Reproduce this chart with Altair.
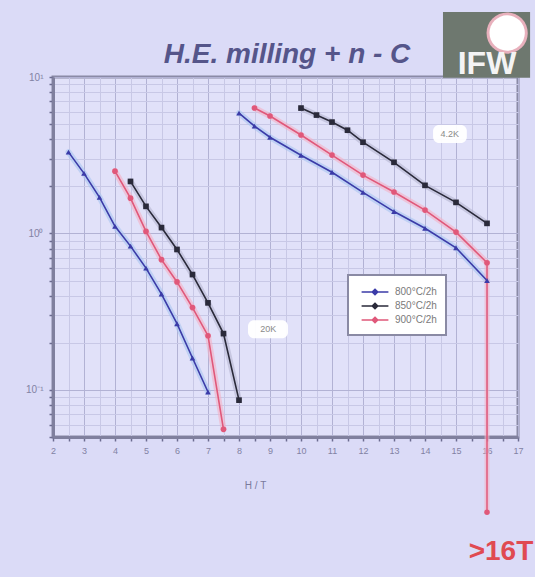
import altair as alt
import pandas as pd

series_names = ["800°C/2h", "850°C/2h", "900°C/2h"]   # blue, black, pink
line_colors = ["#3b3ba8", "#2a2a3a", "#e0587a"]
halo_colors = ["#a8c4f0", "#b6b6d0", "#f4b0c4"]
shapes = ["triangle-up", "square", "circle"]

# 20 K curves  (B in T, Jc arbitrary log units)
b20_blue = [2.5, 3, 3.5, 4, 4.5, 5, 5.5, 6, 6.5, 7]
j20_blue = [3.31, 2.42, 1.70, 1.11, 0.83, 0.60, 0.41, 0.265, 0.16, 0.097]
b20_black = [4.5, 5, 5.5, 6, 6.5, 7, 7.5, 8]
j20_black = [2.15, 1.49, 1.09, 0.79, 0.546, 0.36, 0.229, 0.086]
b20_pink = [4, 4.5, 5, 5.5, 6, 6.5, 7, 7.5]
j20_pink = [2.50, 1.68, 1.03, 0.68, 0.49, 0.336, 0.222, 0.056]

# 4.2 K curves
b42_blue = [8, 8.5, 9, 10, 11, 12, 13, 14, 15, 16]
j42_blue = [5.88, 4.85, 4.12, 3.16, 2.46, 1.83, 1.38, 1.08, 0.81, 0.50]
b42_black = [10, 10.5, 11, 11.5, 12, 13, 14, 15, 16]
j42_black = [6.33, 5.71, 5.15, 4.57, 3.83, 2.85, 2.03, 1.58, 1.16]
b42_pink = [8.5, 9, 10, 11, 12, 13, 14, 15, 16]
j42_pink = [6.34, 5.63, 4.26, 3.17, 2.36, 1.84, 1.41, 1.02, 0.65]

x_ticks = [2 + 0.5 * i for i in range(31)]
y_ticks = [0.05, 0.06, 0.07, 0.08, 0.09,
           0.1, 0.2, 0.3, 0.4, 0.5, 0.6, 0.7, 0.8, 0.9,
           1, 2, 3, 4, 5, 6, 7, 8, 9, 10]

# annotation anchors (data coordinates)
title_text = ["H.E. milling + n - C"]
title_x = [9.55]
title_y = [12.3]

temp_labels = ["4.2K", "20K"]
temp_x = [14.8, 8.94]
temp_y = [4.32, 0.245]
temp_box_x = [14.26, 8.29]
temp_box_x2 = [15.35, 9.58]
temp_box_y = [4.93, 0.279]
temp_box_y2 = [3.78, 0.214]

arrow_b = [16]
arrow_from = [0.65]
arrow_to = [0.0165]
arrow_text = [">16T"]
arrow_text_x = [16.45]
arrow_text_y = [0.0092]

logo_x = [14.58]
logo_x2 = [17.39]
logo_y = [26.0]
logo_y2 = [9.9]
logo_circle_x = [16.65]
logo_circle_y = [19.1]
logo_text = ["IFW"]
logo_text_x = [16.0]
logo_text_y = [10.4]

rows = []
for name, grp, bs, js in [
    (series_names[0], "20K", b20_blue, j20_blue),
    (series_names[1], "20K", b20_black, j20_black),
    (series_names[2], "20K", b20_pink, j20_pink),
    (series_names[0], "4.2K", b42_blue, j42_blue),
    (series_names[1], "4.2K", b42_black, j42_black),
    (series_names[2], "4.2K", b42_pink, j42_pink),
]:
    for b, j in zip(bs, js):
        rows.append({"series": name, "group": grp, "B": b, "J": j})
df = pd.DataFrame(rows)

FONT = "Liberation Sans"
xscale = alt.Scale(domain=[2, 17], nice=False, zero=False)
yscale = alt.Scale(type="log", domain=[0.05, 10], nice=False)

x_axis = alt.Axis(
    values=x_ticks, title="H / T", titleX=202, titleY=43,
    titleFontSize=10, titleColor="#7a7a9c", titleFont=FONT, titleFontWeight="normal",
    labelExpr="datum.value % 1 === 0 ? format(datum.value, 'd') : ''",
    labelFontSize=9, labelColor="#8282a4", labelFont=FONT, labelPadding=5,
    labelOverlap=False, labelFlush=False,
    tickSize=4, tickColor="#6c6c90", tickWidth=1.5,
    domainColor="#80809e", domainWidth=3,
    grid=True,
    gridColor={"condition": {"test": "datum.value % 1 === 0", "value": "#b2b2d4"},
               "value": "#c8c8e6"},
    gridWidth=1)
y_axis = alt.Axis(
    values=y_ticks, title=None,
    labelExpr="abs(datum.value-10)<1e-6 ? '10¹' : abs(datum.value-1)<1e-6 ? '10⁰' : abs(datum.value-0.1)<1e-6 ? '10⁻¹' : ''",
    labelFontSize=10, labelColor="#8282a4", labelFont=FONT, labelPadding=6,
    labelOverlap=False, labelFlush=False,
    tickSize=4, tickColor="#6c6c90", tickWidth=1.5,
    domainColor="#80809e", domainWidth=3,
    grid=True,
    gridColor={"condition": {"test": "abs(log(datum.value)/LN10 - round(log(datum.value)/LN10)) < 0.001",
                             "value": "#b2b2d4"},
               "value": "#c8c8e6"},
    gridWidth=1)


def X(f):
    return alt.X(f"{f}:Q", scale=xscale, axis=x_axis)


def Y(f):
    return alt.Y(f"{f}:Q", scale=yscale, axis=y_axis)


base = alt.Chart(df)

halos = []
pts = []
for name, hc, lc, shp in zip(series_names, halo_colors, line_colors, shapes):
    halos.append(base.transform_filter(alt.datum.series == name).mark_line(
        strokeWidth=6, opacity=0.6, strokeCap="round", color=hc).encode(
        x=X("B"), y=Y("J"), detail="group:N"))
    pts.append(base.transform_filter(alt.datum.series == name).mark_point(
        filled=True, size=32, strokeWidth=0, opacity=1, color=lc, shape=shp).encode(
        x=X("B"), y=Y("J")))

lines = base.mark_line(strokeWidth=1.6).encode(
    x=X("B"), y=Y("J"),
    color=alt.Color("series:N", scale=alt.Scale(domain=series_names, range=line_colors),
                    sort=series_names,
                    legend=alt.Legend(
                        title=None, orient="none", legendX=295, legendY=198,
                        symbolType="M-2,0L2,0M0,-0.4L0.4,0L0,0.4L-0.4,0ZM0,-0.2L0.2,0L0,0.2L-0.2,0Z",
                        symbolSize=180, symbolStrokeWidth=1.6, symbolOffset=10,
                        labelOffset=12, labelFontSize=10, labelColor="#7a7a7a", labelFont=FONT,
                        fillColor="white", strokeColor="#8a8aa4", padding=9, rowPadding=0)),
    detail="group:N")

arrow_df = pd.DataFrame({"B": arrow_b, "J": arrow_from, "J2": arrow_to})
arrow_halo = alt.Chart(arrow_df).mark_rule(color=halo_colors[2], strokeWidth=5, opacity=0.6).encode(
    x=X("B"), y=Y("J"), y2="J2:Q")
arrow_line = alt.Chart(arrow_df).mark_rule(color=line_colors[2], strokeWidth=1.5).encode(
    x=X("B"), y=Y("J"), y2="J2:Q")
arrow_head = alt.Chart(arrow_df).mark_point(filled=True, shape="circle", size=30,
                                            color=line_colors[2], opacity=1).encode(
    x=X("B"), y=Y("J2"))
arrow_lbl = alt.Chart(pd.DataFrame({"B": arrow_text_x, "J": arrow_text_y, "t": arrow_text})).mark_text(
    font=FONT, fontSize=28, fontWeight="bold", color="#e04a52", align="center", baseline="middle").encode(
    x=X("B"), y=Y("J"), text="t:N")

tdf = pd.DataFrame({"t": temp_labels, "x": temp_x, "y": temp_y,
                    "bx": temp_box_x, "bx2": temp_box_x2, "by": temp_box_y, "by2": temp_box_y2})
tbox = alt.Chart(tdf).mark_rect(fill="white", cornerRadius=6, opacity=0.95).encode(
    x=X("bx"), x2="bx2:Q", y=Y("by"), y2="by2:Q")
ttext = alt.Chart(tdf).mark_text(font=FONT, fontSize=9, color="#8a8a8a",
                                 align="center", baseline="middle").encode(
    x=X("x"), y=Y("y"), text="t:N")

title_mark = alt.Chart(pd.DataFrame({"x": title_x, "y": title_y, "t": title_text})).mark_text(
    font=FONT, fontSize=28, fontWeight="bold", fontStyle="italic", color="#55558a",
    align="center", baseline="alphabetic").encode(x=X("x"), y=Y("y"), text="t:N")

ldf = pd.DataFrame({"x": logo_x, "x2": logo_x2, "y": logo_y, "y2": logo_y2,
                    "cx": logo_circle_x, "cy": logo_circle_y,
                    "tx": logo_text_x, "ty": logo_text_y, "t": logo_text})
logo_rect = alt.Chart(ldf).mark_rect(fill="#6e786f").encode(x=X("x"), x2="x2:Q", y=Y("y"), y2="y2:Q")
logo_ring = alt.Chart(ldf).mark_point(filled=True, shape="circle", size=1700, color="#e8b0bc", opacity=1).encode(
    x=X("cx"), y=Y("cy"))
logo_circle = alt.Chart(ldf).mark_point(filled=True, shape="circle", size=1250, color="white", opacity=1).encode(
    x=X("cx"), y=Y("cy"))
logo_txt = alt.Chart(ldf).mark_text(font=FONT, fontSize=32, fontWeight="bold", color="#f4f4f4",
                                    align="center", baseline="alphabetic").encode(
    x=X("tx"), y=Y("ty"), text="t:N")

chart = alt.layer(
    *halos, arrow_halo, lines, arrow_line, *pts, arrow_head, arrow_lbl,
    tbox, ttext, title_mark, logo_rect, logo_ring, logo_circle, logo_txt
).properties(
    width=465, height=360,
    autosize=alt.AutoSizeParams(type="none"),
    padding={"left": 53, "top": 77, "right": 17, "bottom": 140},
    background="#dbdbf7",
).configure_view(
    fill="#e1e1f9", stroke="#8a8aa6", strokeWidth=3
).configure_legend(
    strokeWidth=2
)

chart.save("out.html", embed_options={"renderer": "svg", "actions": False})
